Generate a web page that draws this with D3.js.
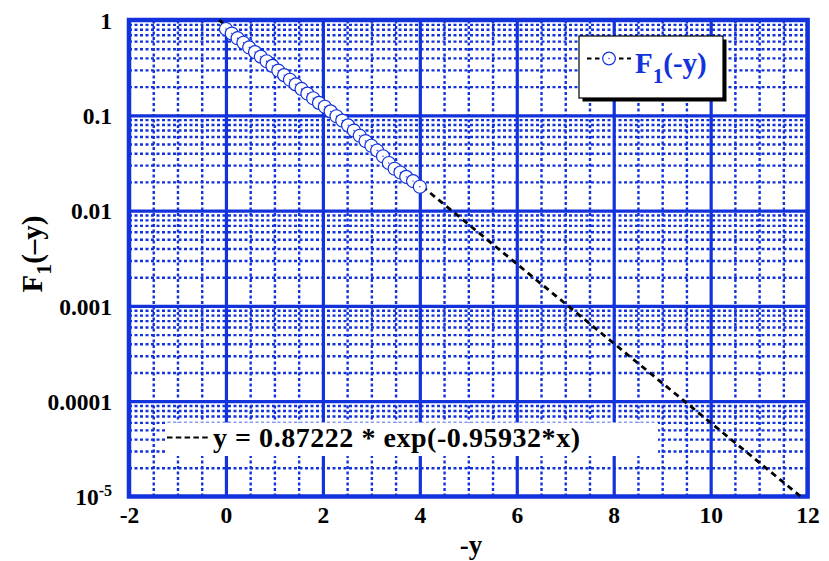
<!DOCTYPE html>
<html>
<head>
<meta charset="utf-8">
<script src="https://cdn.jsdelivr.net/npm/d3@7"></script>
<style>
  html, body { margin: 0; padding: 0; background: #fff; }
  svg { display: block; font-family: "Liberation Serif", "Times New Roman", serif; font-weight: bold; }
</style>
</head>
<body>
<svg id="chart" width="829" height="561"></svg>
<script>
const negY = [0, 0.12, 0.24, 0.36, 0.48, 0.6, 0.72, 0.84, 0.96, 1.08, 1.2, 1.32, 1.44, 1.56, 1.68, 1.8, 1.92,
              2.04, 2.16, 2.28, 2.4, 2.52, 2.64, 2.76, 2.88, 3.0, 3.12, 3.24, 3.36, 3.48, 3.6, 3.72, 3.86, 4.0];
const F1 = [0.805, 0.721, 0.644, 0.577, 0.515, 0.461, 0.412, 0.369, 0.330, 0.295, 0.264, 0.236, 0.211, 0.189, 0.169, 0.151, 0.135,
            0.123, 0.110, 0.0977, 0.0881, 0.0785, 0.0692, 0.0610, 0.0537, 0.0479, 0.0427, 0.0372, 0.0316, 0.0275, 0.0251, 0.0226, 0.0204, 0.0178];

// Exponential fit y = a * exp(b * x)
const fitCoef = [0.87222, -0.95932];
const fitLabel = "y = 0.87222 * exp(-0.95932*x)";

// Axes
const xDomain = [-2, 12];
const yDomain = [1e-5, 1];
const xTicks = [-2, 0, 2, 4, 6, 8, 10, 12];
const xTickLabels = ["-2", "0", "2", "4", "6", "8", "10", "12"];
const yTicks = [1e-5, 1e-4, 1e-3, 1e-2, 1e-1, 1];
const yTickLabels = ["10-5", "0.0001", "0.001", "0.01", "0.1", "1"];
const xMinorTicks = [-1.5, -1, -0.5, 0.5, 1, 1.5, 2.5, 3, 3.5, 4.5, 5, 5.5, 6.5, 7, 7.5, 8.5, 9, 9.5, 10.5, 11, 11.5];
const yMinorMult = [2, 3, 4, 5, 6, 7, 8, 9];
const seriesName = "F";
const seriesSub = "1";
const seriesArg = "(-y)";
const xTitle = "-y";
const yTitleParts = ["F", "1", "(\u2013y)"];

const BLUE = "#1232dc";
const svg = d3.select("#chart");
const pLeft = 129, pRight = 807.6, pTop = 20, pBottom = 496.5;

const x = d3.scaleLinear().domain(xDomain).range([pLeft, pRight]);
const y = d3.scaleLog().domain(yDomain).range([pBottom, pTop]);

const yMinor = [];
for (let e = -5; e < 0; e++) yMinorMult.forEach(m => yMinor.push(m * Math.pow(10, e)));

// Minor grid (dotted)
svg.append("g").attr("transform", `translate(0,${pBottom})`)
  .call(d3.axisBottom(x).tickValues(xMinorTicks).tickSize(-(pBottom - pTop)).tickFormat(""))
  .call(g => g.select(".domain").remove())
  .call(g => g.selectAll("line").attr("stroke", BLUE).attr("stroke-width", 2.4).attr("stroke-dasharray", "3,2.5"));

svg.append("g").attr("transform", `translate(${pLeft},0)`)
  .call(d3.axisLeft(y).tickValues(yMinor).tickSize(-(pRight - pLeft)).tickFormat(""))
  .call(g => g.select(".domain").remove())
  .call(g => g.selectAll("line").attr("stroke", BLUE).attr("stroke-width", 2.4).attr("stroke-dasharray", "3,2.5"));

// Major grid (solid)
svg.append("g").attr("transform", `translate(0,${pBottom})`)
  .call(d3.axisBottom(x).tickValues(xTicks.slice(1, -1)).tickSize(-(pBottom - pTop)).tickFormat(""))
  .call(g => g.select(".domain").remove())
  .call(g => g.selectAll("line").attr("stroke", BLUE).attr("stroke-width", 3.2));

svg.append("g").attr("transform", `translate(${pLeft},0)`)
  .call(d3.axisLeft(y).tickValues(yTicks.slice(1, -1)).tickSize(-(pRight - pLeft)).tickFormat(""))
  .call(g => g.select(".domain").remove())
  .call(g => g.selectAll("line").attr("stroke", BLUE).attr("stroke-width", 3.2));

// Frame
svg.append("rect")
  .attr("x", pLeft).attr("y", pTop).attr("width", pRight - pLeft).attr("height", pBottom - pTop)
  .attr("fill", "none").attr("stroke", BLUE).attr("stroke-width", 4.5);

// Tick labels
svg.append("g").attr("transform", `translate(0,${pBottom})`)
  .call(d3.axisBottom(x).tickValues(xTicks).tickSize(0).tickPadding(0)
    .tickFormat((d, i) => xTickLabels[i]))
  .call(g => g.select(".domain").remove())
  .call(g => g.selectAll("text").attr("y", 26).attr("dy", null)
    .attr("fill", "#000").style("font-size", "23.5px").style("font-family", "Liberation Serif").style("font-weight", "bold"));

svg.append("g").attr("transform", `translate(${pLeft},0)`)
  .call(d3.axisLeft(y).tickValues(yTicks).tickSize(0).tickPadding(0)
    .tickFormat((d, i) => yTickLabels[i]))
  .call(g => g.select(".domain").remove())
  .call(g => g.selectAll("text").attr("x", -17).attr("dy", "0.35em")
    .attr("fill", "#000").style("font-size", "23.5px").style("font-family", "Liberation Serif").style("font-weight", "bold"))
  .call(g => g.selectAll("text").filter(d => d === 1e-5).each(function () {
    const t = d3.select(this).text("");
    t.append("tspan").text("10");
    t.append("tspan").attr("dy", "-0.55em").style("font-size", "16px").text("-5");
  }));

// Fit curve
const fitFn = v => fitCoef[0] * Math.exp(fitCoef[1] * v);
const xStart = Math.log(yDomain[1] / fitCoef[0]) / fitCoef[1];
const xEnd = Math.min(xDomain[1], Math.log(yDomain[0] / fitCoef[0]) / fitCoef[1]);
const fitPts = d3.range(0, 61).map(i => xStart + (xEnd - xStart) * i / 60);
svg.append("path")
  .datum(fitPts)
  .attr("d", d3.line().x(d => x(d)).y(d => y(fitFn(d))))
  .attr("fill", "none").attr("stroke", "#000").attr("stroke-width", 2.8)
  .attr("stroke-dasharray", "6,4.5");

// Data points
const pts = svg.append("g");
negY.forEach((v, i) => {
  pts.append("circle").attr("cx", x(v)).attr("cy", y(F1[i])).attr("r", 6.5)
    .attr("fill", "#fff").attr("stroke", BLUE).attr("stroke-width", 1.2);
  pts.append("circle").attr("cx", x(v)).attr("cy", y(F1[i])).attr("r", 0.7).attr("fill", BLUE);
});

// Legend
const lg = svg.append("g");
lg.append("rect").attr("x", 582.5).attr("y", 39.5).attr("width", 144).attr("height", 62).attr("fill", "#000");
lg.append("rect").attr("x", 579).attr("y", 36).attr("width", 144).attr("height", 62)
  .attr("fill", "#fff").attr("stroke", "#000").attr("stroke-width", 1.2);
lg.append("line").attr("x1", 587).attr("x2", 631).attr("y1", 58.5).attr("y2", 58.5)
  .attr("stroke", "#000").attr("stroke-width", 2.2).attr("stroke-dasharray", "4.5,3.5");
lg.append("circle").attr("cx", 609).attr("cy", 58.5).attr("r", 6.3)
  .attr("fill", "#fff").attr("stroke", BLUE).attr("stroke-width", 1.2);
lg.append("circle").attr("cx", 609).attr("cy", 58.5).attr("r", 0.7).attr("fill", BLUE);
const lt = lg.append("text").attr("x", 635).attr("y", 73).attr("fill", BLUE).style("font-size", "29px");
lt.append("tspan").text(seriesName);
lt.append("tspan").attr("dy", 10).style("font-size", "21px").text(seriesSub);
lt.append("tspan").attr("dy", -10).text(seriesArg);

// Fit label box
const fb = svg.append("g");
fb.append("rect").attr("x", 165).attr("y", 422.5).attr("width", 493).attr("height", 33.5).attr("fill", "#fff");
fb.append("line").attr("x1", 167).attr("x2", 211).attr("y1", 437.5).attr("y2", 437.5)
  .attr("stroke", "#000").attr("stroke-width", 2).attr("stroke-dasharray", "5.5,3.3");
fb.append("text").attr("x", 213).attr("y", 447).attr("fill", "#000")
  .attr("textLength", 367).attr("lengthAdjust", "spacing")
  .style("font-size", "28px").text(fitLabel);

// Axis titles
svg.append("text").attr("x", 471).attr("y", 554).attr("text-anchor", "middle")
  .attr("fill", "#000").style("font-size", "27px").text(xTitle);

const yt = svg.append("text").attr("transform", "translate(42,254) rotate(-90)")
  .attr("text-anchor", "middle").attr("fill", "#000").style("font-size", "29px");
yt.append("tspan").text(yTitleParts[0]);
yt.append("tspan").attr("dy", 9).style("font-size", "22px").text(yTitleParts[1]);
yt.append("tspan").attr("dy", -9).text(yTitleParts[2]);
</script>
</body>
</html>
